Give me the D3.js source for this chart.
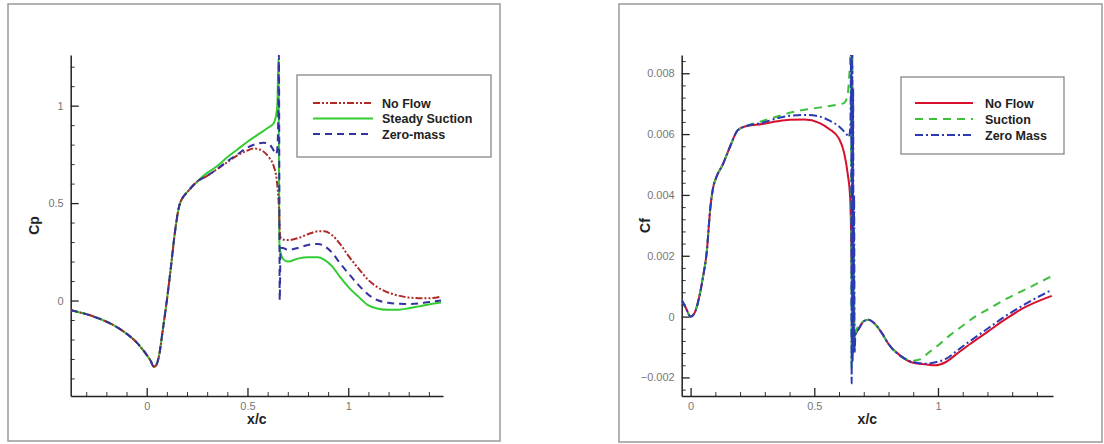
<!DOCTYPE html>
<html>
<head>
<meta charset="utf-8">
<script src="https://cdn.jsdelivr.net/npm/d3@7/dist/d3.min.js"></script>
<style>
  html, body { margin: 0; padding: 0; background: #fff; }
  svg { display: block; font-family: "Liberation Sans", Arial, sans-serif; }
</style>
</head>
<body>
<svg id="chart" width="1104" height="444"></svg>
<script>
// ---------------- Cp panel data ----------------
const cpCommonX = [-0.375, -0.3, -0.23, -0.15, -0.1, -0.05, -0.01, 0.02, 0.035, 0.045, 0.06, 0.08, 0.1, 0.12, 0.14, 0.16, 0.18, 0.2, 0.25];
const cpCommonY = [-0.05, -0.07, -0.095, -0.135, -0.17, -0.215, -0.265, -0.31, -0.34, -0.335, -0.29, -0.15, 0.0, 0.17, 0.35, 0.48, 0.53, 0.555, 0.61];

const cpNoFlowX = [0.3, 0.35, 0.4, 0.45, 0.5, 0.53, 0.56, 0.59, 0.61, 0.63, 0.645, 0.655, 0.662, 0.67, 0.7, 0.75, 0.8, 0.85, 0.88, 0.92, 0.96, 1.0, 1.05, 1.1, 1.15, 1.2, 1.25, 1.3, 1.35, 1.4, 1.46];
const cpNoFlowY = [0.64, 0.675, 0.71, 0.745, 0.77, 0.78, 0.775, 0.755, 0.73, 0.69, 0.62, 0.5, 0.33, 0.315, 0.31, 0.32, 0.34, 0.355, 0.355, 0.335, 0.29, 0.23, 0.165, 0.105, 0.065, 0.04, 0.025, 0.015, 0.012, 0.012, 0.02];

const cpSuctionX = [0.3, 0.35, 0.4, 0.45, 0.5, 0.55, 0.6, 0.63, 0.64, 0.648, 0.654, 0.658, 0.665, 0.68, 0.7, 0.75, 0.8, 0.85, 0.88, 0.92, 0.96, 1.0, 1.05, 1.1, 1.15, 1.2, 1.25, 1.3, 1.35, 1.4, 1.46];
const cpSuctionY = [0.655, 0.69, 0.735, 0.775, 0.815, 0.85, 0.885, 0.91, 0.94, 1.0, 1.24, 0.3, 0.24, 0.21, 0.2, 0.215, 0.222, 0.222, 0.21, 0.175, 0.12, 0.07, 0.02, -0.025, -0.042, -0.048, -0.047, -0.04, -0.03, -0.02, -0.01];

const cpZeroX = [0.3, 0.35, 0.4, 0.45, 0.5, 0.55, 0.58, 0.61, 0.63, 0.642, 0.648, 0.652, 0.656, 0.66, 0.664, 0.675, 0.7, 0.75, 0.8, 0.85, 0.88, 0.92, 0.96, 1.0, 1.05, 1.1, 1.15, 1.2, 1.25, 1.3, 1.35, 1.4, 1.46];
const cpZeroY = [0.64, 0.675, 0.715, 0.75, 0.785, 0.805, 0.81, 0.8, 0.77, 0.75, 0.78, 0.9, 1.26, 0.0, 0.27, 0.27, 0.26, 0.27, 0.285, 0.29, 0.28, 0.245, 0.19, 0.14, 0.08, 0.03, 0.0, -0.012, -0.017, -0.018, -0.015, -0.008, 0.0];

// ---------------- Cf panel data ----------------
const cfCommonX = [-0.036, -0.02, 0, 0.015, 0.035, 0.05, 0.065, 0.08, 0.09, 0.105, 0.13, 0.16, 0.19, 0.22];
const cfCommonY = [0.00055, 0.0003, 0.0, 0.0001, 0.00065, 0.0013, 0.0021, 0.0036, 0.0042, 0.0046, 0.0050, 0.0056, 0.00612, 0.00625];

const cfNoFlowX = [0.29, 0.35, 0.4, 0.46, 0.52, 0.56, 0.6, 0.62, 0.635, 0.645, 0.652, 0.657, 0.665, 0.68, 0.7, 0.72, 0.74, 0.77, 0.8, 0.85, 0.9, 0.95, 0.99, 1.03, 1.08, 1.13, 1.2, 1.27, 1.35, 1.46];
const cfNoFlowY = [0.00633, 0.00642, 0.00647, 0.00648, 0.00637, 0.00617, 0.00585, 0.0054, 0.0047, 0.0039, 0.0015, -0.0007, -0.0006, -0.0004, -0.00015, -0.0001, -0.0002, -0.0005, -0.0009, -0.0013, -0.00152, -0.00157, -0.0016, -0.0015, -0.0012, -0.0009, -0.0005, -0.0001, 0.0003, 0.00068];

const cfSuctionX = [0.29, 0.35, 0.4, 0.46, 0.52, 0.58, 0.62, 0.635, 0.642, 0.648, 0.651, 0.654, 0.657, 0.66, 0.663, 0.67, 0.69, 0.72, 0.74, 0.77, 0.8, 0.85, 0.9, 0.93, 0.96, 1.0, 1.05, 1.1, 1.15, 1.2, 1.28, 1.35, 1.46];
const cfSuctionY = [0.00643, 0.00658, 0.0067, 0.0068, 0.00687, 0.00695, 0.00702, 0.0073, 0.0080, 0.0088, -0.0017, 0.0088, -0.0012, 0.002, -0.0008, -0.00045, -0.0002, -0.0001, -0.0002, -0.0005, -0.0009, -0.0013, -0.00145, -0.0014, -0.0012, -0.00095, -0.0006, -0.0003, 0.0, 0.00023, 0.0006, 0.00088, 0.00133];

const cfZeroX = [0.29, 0.35, 0.4, 0.46, 0.52, 0.56, 0.6, 0.63, 0.64, 0.646, 0.649, 0.651, 0.653, 0.655, 0.657, 0.659, 0.661, 0.663, 0.666, 0.68, 0.7, 0.72, 0.74, 0.77, 0.8, 0.85, 0.9, 0.95, 0.99, 1.03, 1.08, 1.13, 1.2, 1.27, 1.35, 1.46];
const cfZeroY = [0.00637, 0.00652, 0.0066, 0.00663, 0.00658, 0.00645, 0.00625, 0.006, 0.0059, 0.0063, 0.0088, -0.0022, 0.0088, -0.0015, 0.0075, -0.001, 0.004, -0.0012, -0.0006, -0.0004, -0.00015, -0.0001, -0.0002, -0.0005, -0.0009, -0.0013, -0.0015, -0.00155, -0.0015, -0.0014, -0.0011, -0.0008, -0.0004, 0.0, 0.0004, 0.00088];

// ---------------- ticks & labels ----------------
const cpXMajor = [0, 0.5, 1];
const cpYMajor = [0, 0.5, 1];
const cfXMajor = [0, 0.5, 1];
const cfYMajor = [-0.002, 0, 0.002, 0.004, 0.006, 0.008];
const cpLegend = ["No Flow", "Steady Suction", "Zero-mass"];
const cfLegend = ["No Flow", "Suction", "Zero Mass"];

const svg = d3.select("#chart");

function zip(xs, ys) { return xs.map((x, i) => [x, ys[i]]); }
function range(a, b, s) { const r = []; for (let v = a; v <= b + s * 1e-6; v += s) r.push(+v.toFixed(6)); return r; }

function panel(o) {
  const g = svg.append("g");
  g.append("rect").attr("x", o.frame[0]).attr("y", o.frame[1])
    .attr("width", o.frame[2] - o.frame[0]).attr("height", o.frame[3] - o.frame[1])
    .attr("fill", "none").attr("stroke", "#9a9a9a").attr("stroke-width", 1.5);

  const x = d3.scaleLinear().domain(o.xDomain).range([o.x0, o.x1]);
  const y = d3.scaleLinear().domain(o.yDomain).range([o.y1, o.y0]);

  const clipId = o.id + "clip";
  g.append("clipPath").attr("id", clipId).append("rect")
    .attr("x", o.x0).attr("y", o.y0).attr("width", o.x1 - o.x0).attr("height", o.y1 - o.y0);

  // minor ticks
  g.append("g").attr("transform", `translate(0,${o.y1})`)
    .call(d3.axisBottom(x).tickValues(o.xMinor).tickSize(-4).tickSizeOuter(0).tickFormat(""))
    .call(s => s.select(".domain").remove())
    .call(s => s.selectAll("line").attr("stroke", "#333"));
  g.append("g").attr("transform", `translate(${o.x0},0)`)
    .call(d3.axisLeft(y).tickValues(o.yMinor).tickSize(-4).tickSizeOuter(0).tickFormat(""))
    .call(s => s.select(".domain").remove())
    .call(s => s.selectAll("line").attr("stroke", "#333"));

  // major axes
  g.append("g").attr("transform", `translate(0,${o.y1})`)
    .call(d3.axisBottom(x).tickValues(o.xMajor).tickSize(-8).tickSizeOuter(0).tickPadding(6).tickFormat(o.xFmt))
    .call(s => s.select(".domain").attr("stroke", "#222").attr("stroke-width", 1.5))
    .call(s => s.selectAll("line").attr("stroke", "#222").attr("stroke-width", 1.3))
    .call(s => s.selectAll("text").attr("fill", "#777").attr("font-size", 11).attr("font-family", "Liberation Sans, Arial, sans-serif"));
  g.append("g").attr("transform", `translate(${o.x0},0)`)
    .call(d3.axisLeft(y).tickValues(o.yMajor).tickSize(-8).tickSizeOuter(0).tickPadding(7).tickFormat(o.yFmt))
    .call(s => s.select(".domain").attr("stroke", "#222").attr("stroke-width", 1.5))
    .call(s => s.selectAll("line").attr("stroke", "#222").attr("stroke-width", 1.3))
    .call(s => s.selectAll("text").attr("fill", "#777").attr("font-size", 11).attr("font-family", "Liberation Sans, Arial, sans-serif"));

  // axis titles
  g.append("text").attr("x", (o.x0 + o.x1) / 2).attr("y", o.y1 + 28)
    .attr("text-anchor", "middle").attr("font-weight", "bold").attr("font-size", 14).attr("fill", "#222").text("x/c");
  g.append("text").attr("transform", `translate(${o.x0 - 32},${(o.y0 + o.y1) / 2}) rotate(-90)`)
    .attr("text-anchor", "middle").attr("font-weight", "bold").attr("font-size", 14).attr("fill", "#222").text(o.yTitle);

  // series
  const line = d3.line().x(d => x(d[0])).y(d => y(d[1])).curve(d3.curveMonotoneX);
  const pl = g.append("g").attr("clip-path", `url(#${clipId})`);
  o.series.forEach(s => {
    pl.append("path").datum(s.data).attr("d", line).attr("fill", "none")
      .attr("stroke", s.color).attr("stroke-width", 2).attr("stroke-dasharray", s.dash || null)
      .attr("stroke-linejoin", "round");
  });

  // legend
  const L = o.legend;
  g.append("rect").attr("x", L.box[0]).attr("y", L.box[1]).attr("width", L.box[2] - L.box[0]).attr("height", L.box[3] - L.box[1])
    .attr("fill", "#fff").attr("stroke", "#888").attr("stroke-width", 1.3);
  L.items.forEach((it, i) => {
    const yy = L.rows[i];
    g.append("line").attr("x1", L.lx0).attr("x2", L.lx1).attr("y1", yy).attr("y2", yy)
      .attr("stroke", it.color).attr("stroke-width", 2).attr("stroke-dasharray", it.dash || null);
    g.append("text").attr("x", L.tx).attr("y", yy + 4.5).attr("font-weight", "bold").attr("font-size", 12.5)
      .attr("fill", "#222").text(it.label);
  });
}

const cpRed = "#b02a2a", cpGreen = "#33cc33", cpBlue = "#33339f";
const cfRed = "#d8102e", cfGreen = "#3cbf3c", cfBlue = "#2a3ab5";

panel({
  id: "cp", frame: [8, 4, 500, 441],
  x0: 70.7, x1: 443, y0: 55, y1: 396,
  xDomain: [-0.377, 1.47], yDomain: [-0.49, 1.26],
  xMajor: cpXMajor, yMajor: cpYMajor,
  xMinor: range(-0.3, 1.4, 0.1).filter(v => !cpXMajor.includes(v)),
  yMinor: range(-0.4, 1.2, 0.1).filter(v => !cpYMajor.includes(v)),
  xFmt: d3.format("~g"), yFmt: d3.format("~g"),
  yTitle: "Cp",
  series: [
    { data: zip(cpCommonX.concat(cpSuctionX), cpCommonY.concat(cpSuctionY)), color: cpGreen },
    { data: zip(cpCommonX.concat(cpNoFlowX), cpCommonY.concat(cpNoFlowY)), color: cpRed, dash: "7,2,2,2,2,2" },
    { data: zip(cpCommonX.concat(cpZeroX), cpCommonY.concat(cpZeroY)), color: cpBlue, dash: "7,5" }
  ],
  legend: {
    box: [297, 75, 491, 157], lx0: 313, lx1: 373, tx: 382, rows: [103, 118.5, 134],
    items: [
      { label: cpLegend[0], color: cpRed, dash: "7,2,2,2,2,2" },
      { label: cpLegend[1], color: cpGreen },
      { label: cpLegend[2], color: cpBlue, dash: "7,5" }
    ]
  }
});

panel({
  id: "cf", frame: [619, 4, 1102, 442],
  x0: 681.7, x1: 1053, y0: 55, y1: 396,
  xDomain: [-0.036, 1.465], yDomain: [-0.00261, 0.0086],
  xMajor: cfXMajor, yMajor: cfYMajor,
  xMinor: range(0.1, 1.4, 0.1).filter(v => !cfXMajor.includes(v)),
  yMinor: range(-0.0024, 0.0084, 0.0004).filter(v => !cfYMajor.some(m => Math.abs(m - v) < 1e-9)),
  xFmt: d3.format("~g"), yFmt: d => d === 0 ? "0" : d3.format(".3f")(d),
  yTitle: "Cf",
  series: [
    { data: zip(cfCommonX.concat(cfNoFlowX), cfCommonY.concat(cfNoFlowY)), color: cfRed },
    { data: zip(cfCommonX.concat(cfSuctionX), cfCommonY.concat(cfSuctionY)), color: cfGreen, dash: "8,6" },
    { data: zip(cfCommonX.concat(cfZeroX), cfCommonY.concat(cfZeroY)), color: cfBlue, dash: "8,3,2,3" }
  ],
  legend: {
    box: [901, 77, 1064, 154], lx0: 915, lx1: 973, tx: 985, rows: [103, 119, 135],
    items: [
      { label: cfLegend[0], color: cfRed },
      { label: cfLegend[1], color: cfGreen, dash: "8,6" },
      { label: cfLegend[2], color: cfBlue, dash: "8,3,2,3" }
    ]
  }
});
</script>
</body>
</html>
